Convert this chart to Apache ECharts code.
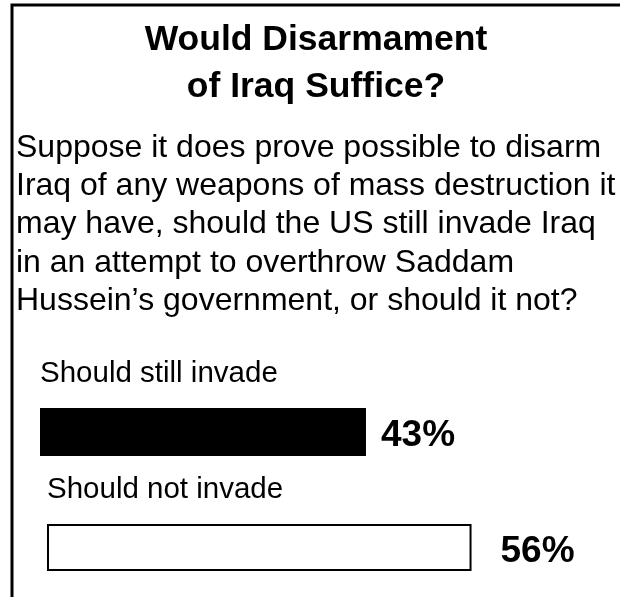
<!DOCTYPE html>
<html>
<head>
<meta charset="utf-8">
<title>Would Disarmament of Iraq Suffice?</title>
<script src="https://cdn.jsdelivr.net/npm/echarts@6/dist/echarts.min.js"></script>
<style>
  html, body { margin: 0; padding: 0; background: #fff; }
  #chart { width: 620px; height: 597px; }
</style>
</head>
<body>
<div id="chart"></div>
<script>
// Poll question and answers
const titleText = 'Would Disarmament\nof Iraq Suffice?';
const questionText = 'Suppose it does prove possible to disarm\n' +
  'Iraq of any weapons of mass destruction it\n' +
  'may have, should the US still invade Iraq\n' +
  'in an attempt to overthrow Saddam\n' +
  'Hussein\u2019s government, or should it not?';
const categories = ['Should still invade', 'Should not invade'];
const values = [43, 56];

const FONT = '"Liberation Sans", Arial, Helvetica, sans-serif';

const chart = echarts.init(document.getElementById('chart'), null, { renderer: 'canvas' });

// one grid per answer; both use the same scale (74 units over 561px)
const AXIS_MAX = 74;
const GRID_WIDTH = 561;
const gridLayout = [
  { left: 40, top: 408, height: 48 },
  { left: 47, top: 524, height: 47 }
];
const barStyles = [
  { color: '#000', borderColor: '#000', borderWidth: 0 },
  { color: '#fff', borderColor: '#000', borderWidth: 2 }
];
const labelGap = [15, 29];

const grids = gridLayout.map(g => ({ left: g.left, top: g.top, height: g.height, width: GRID_WIDTH }));
const xAxes = categories.map((c, i) => ({
  type: 'value', gridIndex: i, min: 0, max: AXIS_MAX, show: false
}));
const yAxes = categories.map((c, i) => ({
  type: 'category', gridIndex: i, data: [c],
  name: c, nameLocation: 'end', nameGap: 34,
  nameTextStyle: { fontFamily: FONT, fontSize: 29.5, color: '#000', align: 'left', verticalAlign: 'middle' },
  axisLine: { show: false }, axisTick: { show: false }, axisLabel: { show: false },
  splitLine: { show: false }
}));
const series = categories.map((c, i) => ({
  type: 'bar', xAxisIndex: i, yAxisIndex: i,
  data: [values[i]],
  barWidth: gridLayout[i].height,
  itemStyle: barStyles[i],
  silent: true,
  label: {
    show: true, position: 'right', distance: labelGap[i], offset: [0, 4],
    formatter: '{c}%',
    fontFamily: FONT, fontSize: 37, fontWeight: 'bold', color: '#000'
  }
}));

chart.setOption({
  animation: false,
  backgroundColor: '#fff',
  title: [
    {
      text: titleText, left: 316, top: 17, textAlign: 'center', padding: 0,
      textStyle: { fontFamily: FONT, fontSize: 35.5, fontWeight: 'bold', color: '#000', lineHeight: 47 }
    },
    {
      text: questionText, left: 16, top: 129, padding: 0,
      textStyle: { fontFamily: FONT, fontSize: 32, fontWeight: 'normal', color: '#000', lineHeight: 38.2 }
    }
  ],
  graphic: [
    {
      type: 'polyline', silent: true,
      shape: { points: [[12, 597], [12, 5], [620, 5]] },
      style: { stroke: '#000', lineWidth: 3, fill: null }
    }
  ],
  grid: grids,
  xAxis: xAxes,
  yAxis: yAxes,
  series: series
});
</script>
</body>
</html>
